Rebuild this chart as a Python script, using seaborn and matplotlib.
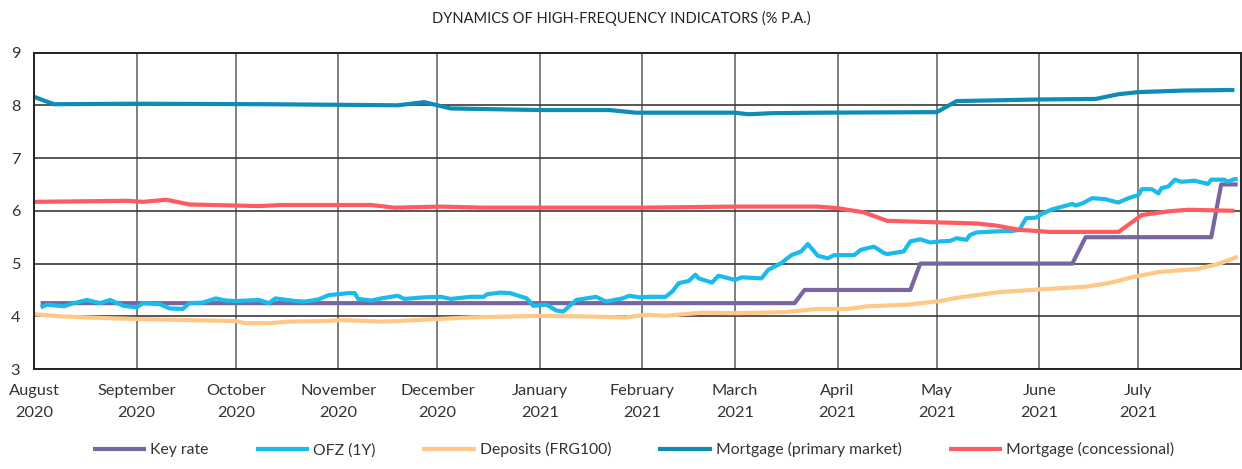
import matplotlib
matplotlib.use("Agg")
import matplotlib.pyplot as plt
import pandas as pd
import seaborn as sns

# values (% p.a.)
key_rate_dates = ["2020-08-03", "2021-03-19", "2021-03-22", "2021-04-23", "2021-04-26",
                  "2021-06-11", "2021-06-15", "2021-07-23", "2021-07-26", "2021-07-31"]
key_rate = [4.25, 4.25, 4.50, 4.50, 5.00, 5.00, 5.50, 5.50, 6.50, 6.50]

ofz_dates = ["2020-08-03", "2020-08-05", "2020-08-10", "2020-08-13", "2020-08-17", "2020-08-21",
             "2020-08-24", "2020-08-28", "2020-09-01", "2020-09-03", "2020-09-08", "2020-09-11",
             "2020-09-15", "2020-09-17", "2020-09-21", "2020-09-25", "2020-09-28", "2020-10-01",
             "2020-10-08", "2020-10-11", "2020-10-13", "2020-10-19", "2020-10-22", "2020-10-26",
             "2020-10-29", "2020-11-04", "2020-11-06", "2020-11-07", "2020-11-11", "2020-11-14",
             "2020-11-19", "2020-11-21", "2020-11-27", "2020-12-02", "2020-12-05", "2020-12-11",
             "2020-12-15", "2020-12-16", "2020-12-20", "2020-12-23", "2020-12-28", "2020-12-30",
             "2021-01-03", "2021-01-06", "2021-01-08", "2021-01-12", "2021-01-18", "2021-01-21",
             "2021-01-26", "2021-01-28", "2021-01-31", "2021-02-03", "2021-02-08", "2021-02-10",
             "2021-02-12", "2021-02-15", "2021-02-17", "2021-02-18", "2021-02-22", "2021-02-24",
             "2021-03-01", "2021-03-03", "2021-03-09", "2021-03-11", "2021-03-15", "2021-03-18",
             "2021-03-21", "2021-03-23", "2021-03-26", "2021-03-29", "2021-03-31", "2021-04-06",
             "2021-04-08", "2021-04-12", "2021-04-15", "2021-04-16", "2021-04-21", "2021-04-23",
             "2021-04-26", "2021-04-29", "2021-05-02", "2021-05-05", "2021-05-07", "2021-05-10",
             "2021-05-11", "2021-05-13", "2021-05-19", "2021-05-24", "2021-05-26", "2021-05-28",
             "2021-05-31", "2021-06-02", "2021-06-05", "2021-06-08", "2021-06-11", "2021-06-12",
             "2021-06-14", "2021-06-17", "2021-06-21", "2021-06-24", "2021-06-25", "2021-06-28",
             "2021-07-01", "2021-07-02", "2021-07-05", "2021-07-07", "2021-07-08", "2021-07-10",
             "2021-07-12", "2021-07-14", "2021-07-18", "2021-07-22", "2021-07-23", "2021-07-27",
             "2021-07-28", "2021-07-30", "2021-07-31"]
ofz = [4.17, 4.22, 4.19, 4.25, 4.31, 4.25, 4.31, 4.20, 4.17, 4.25, 4.23, 4.15,
       4.14, 4.25, 4.26, 4.34, 4.30, 4.29, 4.31, 4.25, 4.34, 4.29, 4.28, 4.32,
       4.40, 4.44, 4.44, 4.33, 4.30, 4.34, 4.39, 4.33, 4.36, 4.37, 4.33, 4.37,
       4.37, 4.42, 4.45, 4.44, 4.34, 4.20, 4.22, 4.11, 4.09, 4.31, 4.37, 4.28,
       4.34, 4.39, 4.36, 4.37, 4.37, 4.47, 4.63, 4.67, 4.79, 4.72, 4.64, 4.77,
       4.69, 4.74, 4.72, 4.88, 5.01, 5.16, 5.23, 5.37, 5.15, 5.10, 5.16, 5.16,
       5.26, 5.32, 5.20, 5.18, 5.23, 5.42, 5.46, 5.40, 5.42, 5.43, 5.48, 5.45,
       5.54, 5.59, 5.61, 5.62, 5.64, 5.86, 5.87, 5.95, 6.03, 6.08, 6.13, 6.10,
       6.14, 6.24, 6.22, 6.17, 6.16, 6.24, 6.30, 6.41, 6.41, 6.33, 6.43, 6.46,
       6.59, 6.55, 6.57, 6.51, 6.59, 6.59, 6.55, 6.60, 6.60]

deposit_dates = ["2020-08-01", "2020-08-09", "2020-08-21", "2020-09-01", "2020-10-01", "2020-10-04",
                 "2020-10-11", "2020-10-17", "2020-10-28", "2020-11-02", "2020-11-14", "2020-11-19",
                 "2020-12-01", "2020-12-11", "2021-01-01", "2021-01-13", "2021-01-27", "2021-02-02",
                 "2021-02-08", "2021-02-19", "2021-03-01", "2021-03-16", "2021-03-26", "2021-04-04",
                 "2021-04-10", "2021-04-22", "2021-05-02", "2021-05-08", "2021-05-20", "2021-06-01",
                 "2021-06-15", "2021-06-22", "2021-06-29", "2021-07-07", "2021-07-19", "2021-07-25",
                 "2021-07-31"]
deposits = [4.04, 4.00, 3.97, 3.95, 3.91, 3.87, 3.87, 3.90, 3.91, 3.93, 3.90, 3.91,
            3.95, 3.98, 4.01, 4.00, 3.98, 4.03, 4.01, 4.07, 4.06, 4.08, 4.14, 4.14,
            4.19, 4.22, 4.29, 4.36, 4.46, 4.51, 4.56, 4.63, 4.74, 4.84, 4.90, 4.99,
            5.13]

mort_primary_dates = ["2020-08-01", "2020-08-07", "2020-09-01", "2020-10-11", "2020-11-19",
                      "2020-11-27", "2020-12-05", "2021-01-01", "2021-01-22", "2021-01-30",
                      "2021-03-01", "2021-03-05", "2021-03-12", "2021-03-26", "2021-05-01",
                      "2021-05-07", "2021-06-01", "2021-06-18", "2021-06-25", "2021-07-01",
                      "2021-07-15", "2021-07-30"]
mort_primary = [8.16, 8.02, 8.03, 8.02, 8.00, 8.06, 7.94, 7.91, 7.91, 7.86, 7.86, 7.83,
                7.85, 7.86, 7.87, 8.08, 8.11, 8.12, 8.21, 8.25, 8.28, 8.29]

mort_conc_dates = ["2020-08-01", "2020-08-29", "2020-09-03", "2020-09-10", "2020-09-17",
                   "2020-10-08", "2020-10-15", "2020-11-11", "2020-11-18", "2020-12-02",
                   "2020-12-15", "2021-02-01", "2021-03-01", "2021-03-26", "2021-04-01",
                   "2021-04-09", "2021-04-16", "2021-05-13", "2021-05-19", "2021-05-26",
                   "2021-06-04", "2021-06-25", "2021-07-02", "2021-07-10", "2021-07-16",
                   "2021-07-30"]
mort_conc = [6.17, 6.19, 6.17, 6.21, 6.12, 6.09, 6.11, 6.11, 6.06, 6.08, 6.06, 6.06,
             6.08, 6.08, 6.05, 5.97, 5.81, 5.76, 5.72, 5.64, 5.60, 5.60, 5.92, 5.99,
             6.02, 6.00]

month_ticks = pd.date_range("2020-08-01", "2021-07-01", freq="MS")
month_labels = ["August\n2020", "September\n2020", "October\n2020", "November\n2020",
                "December\n2020", "January\n2021", "February\n2021", "March\n2021",
                "April\n2021", "May\n2021", "June\n2021", "July\n2021"]

sns.set_style("white")
plt.rcParams["font.family"] = ["Lato", "DejaVu Sans"]

fig = plt.figure(figsize=(12.42, 4.69), dpi=100)
ax = fig.add_axes([0.0274, 0.213, 0.9718, 0.675])

series = [
    ("Key rate", key_rate_dates, key_rate, "#7866a0"),
    ("OFZ (1Y)", ofz_dates, ofz, "#1abbeb"),
    ("Deposits (FRG100)", deposit_dates, deposits, "#ffc886"),
    ("Mortgage (primary market)", mort_primary_dates, mort_primary, "#0b8db6"),
    ("Mortgage (concessional)", mort_conc_dates, mort_conc, "#ff5b60"),
]
for name, d, v, c in series:
    sns.lineplot(x=pd.to_datetime(d), y=v, ax=ax, color=c, linewidth=3.0,
                 label=name, solid_capstyle="butt")

ax.set_xlim(pd.Timestamp("2020-08-01"), pd.Timestamp("2021-08-01"))
ax.set_ylim(3, 9)
ax.set_yticks(range(3, 10))
ax.set_xticks(month_ticks)
ax.set_xticklabels(month_labels, linespacing=1.7)
ax.tick_params(axis="both", length=0, labelsize=11.8, colors="#333333")
ax.tick_params(axis="x", pad=11)
ax.tick_params(axis="y", pad=10)
ax.grid(axis="y", color="#3a3a3a", linewidth=1.2)
ax.grid(axis="x", color="#808080", linewidth=1.4)
ax.set_axisbelow(True)
for s in ax.spines.values():
    s.set_color("#222222")
    s.set_linewidth(1.4)
ax.set_xlabel("")
ax.set_ylabel("")

handles, labels = ax.get_legend_handles_labels()
ax.get_legend().remove()
fig.legend(handles, labels, loc="lower center", bbox_to_anchor=(0.51, -0.005), ncol=5,
           frameon=False, fontsize=11.3, handlelength=3.4, handletextpad=0.25,
           columnspacing=3.0, labelcolor="#333333")

fig.text(0.5, 0.96, "DYNAMICS OF HIGH-FREQUENCY INDICATORS (% P.A.)", ha="center",
         va="center", fontsize=10.5, color="#222222")

fig.savefig("out.png", dpi=100)
